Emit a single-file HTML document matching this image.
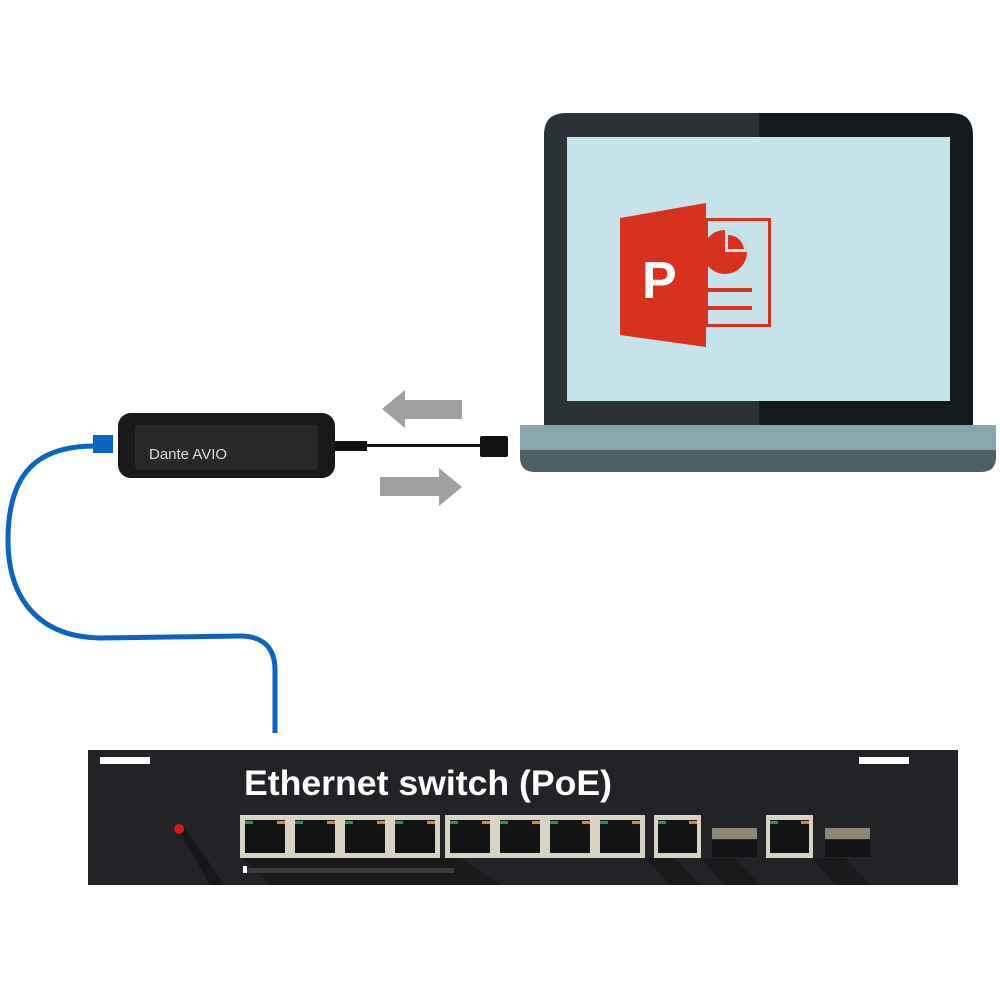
<!DOCTYPE html>
<html><head><meta charset="utf-8"><style>body{margin:0;background:#fff}svg{display:block}</style></head>
<body>
<svg width="1000" height="1000" viewBox="0 0 1000 1000" xmlns="http://www.w3.org/2000/svg">
<!-- laptop -->
<path d="M544,440 V135 Q544,113 566,113 H759 V440 Z" fill="#2b3336"/>
<path d="M759,113 H951 Q973,113 973,135 V440 H759 Z" fill="#131b1e"/>
<rect x="567" y="137" width="383" height="264" fill="#c5e3ea"/>
<path d="M520,425 H996 V457 Q996,472 981,472 H535 Q520,472 520,457 Z" fill="#4e5f66"/>
<rect x="520" y="425" width="476" height="25" fill="#86a5ad"/>
<!-- ppt icon -->
<rect x="706.5" y="219.5" width="63" height="106" fill="none" stroke="#d8311f" stroke-width="3"/>
<circle cx="725" cy="252" r="22" fill="#d8311f"/>
<path d="M725,252 V230 A22,22 0 0 1 747,252 Z" fill="#c5e3ea"/>
<path d="M728,249 V235 A16,16 0 0 1 744,249 Z" fill="#d8311f"/>
<rect x="706" y="288" width="46" height="4" fill="#d8311f"/>
<rect x="706" y="306" width="46" height="4" fill="#d8311f"/>
<path d="M620,218 L706,203 V347 L620,335 Z" fill="#d8311f"/>
<text x="642" y="298" font-family="Liberation Sans, sans-serif" font-weight="bold" font-size="52" fill="#fff">P</text>
<!-- arrows -->
<path d="M382,409 L405,390 V400 H462 V419 H405 V428 Z" fill="#a0a0a0"/>
<path d="M462,487 L439,468 V477 H380 V496 H439 V506 Z" fill="#a0a0a0"/>
<!-- avio -->
<rect x="335" y="441" width="32" height="10" fill="#111"/>
<rect x="365" y="444" width="118" height="3" fill="#111"/>
<rect x="480" y="436" width="28" height="21" rx="2" fill="#111"/>
<rect x="118" y="413" width="217" height="65" rx="13" fill="#18191a"/>
<rect x="135" y="425" width="183" height="45" rx="3" fill="#26282a"/>
<text x="149" y="459" font-family="Liberation Sans, sans-serif" font-size="15" fill="#dcdcdc">Dante AVIO</text>
<!-- blue cable -->
<path d="M95,446 C40,446 8,470 8,540 C8,600 40,637 100,638 L240,636 C265,636 275,650 275,670 L275,733" fill="none" stroke="#0b63c4" stroke-width="5"/>
<rect x="93" y="435" width="20" height="18" fill="#0b63c4"/>
<!-- switch -->
<rect x="88" y="750" width="870" height="135" fill="#222326"/>
<rect x="100" y="757" width="50" height="7" fill="#fff"/>
<rect x="859" y="757" width="50" height="7" fill="#fff"/>
<text x="244" y="795" font-family="Liberation Sans, sans-serif" font-weight="bold" font-size="35" textLength="368" lengthAdjust="spacingAndGlyphs" fill="#fff">Ethernet switch (PoE)</text>
<path d="M178,829 L210,885 H225 L185,829 Z" fill="#151618"/>
<circle cx="179" cy="829" r="5" fill="#d31a1a"/>
<path d="M242,858 L270,885 H500 L460,858 Z" fill="#18191b"/>
<path d="M645,858 L670,885 H700 L675,858 Z" fill="#18191b"/>
<path d="M700,858 L725,885 H760 L735,858 Z" fill="#18191b"/>
<path d="M812,858 L835,885 H870 L845,858 Z" fill="#18191b"/>
<rect x="244" y="868" width="210" height="5" fill="#3a3b3d"/>
<rect x="243" y="866" width="4" height="7" fill="#fff"/>
<rect x="240" y="815" width="200" height="43" fill="#d9d3c4"/>
<rect x="445" y="815" width="200" height="43" fill="#d9d3c4"/>
<rect x="654" y="815" width="47" height="43" fill="#d9d3c4"/>
<rect x="766" y="815" width="47" height="43" fill="#d9d3c4"/>
<g fill="#121314">
<rect x="245" y="820" width="40" height="33"/><rect x="295" y="820" width="40" height="33"/><rect x="345" y="820" width="40" height="33"/><rect x="395" y="820" width="40" height="33"/>
<rect x="450" y="820" width="40" height="33"/><rect x="500" y="820" width="40" height="33"/><rect x="550" y="820" width="40" height="33"/><rect x="600" y="820" width="40" height="33"/>
<rect x="658" y="820" width="39" height="33"/><rect x="770" y="820" width="39" height="33"/>
<rect x="712" y="840" width="45" height="17"/><rect x="825" y="840" width="45" height="17"/>
</g>
<rect x="712" y="828" width="45" height="11" fill="#8e8677"/>
<rect x="825" y="828" width="45" height="11" fill="#8e8677"/>
<g fill="#1f9a4a">
<rect x="245" y="821" width="8" height="3"/><rect x="295" y="821" width="8" height="3"/><rect x="345" y="821" width="8" height="3"/><rect x="395" y="821" width="8" height="3"/>
<rect x="450" y="821" width="8" height="3"/><rect x="500" y="821" width="8" height="3"/><rect x="550" y="821" width="8" height="3"/><rect x="600" y="821" width="8" height="3"/>
<rect x="658" y="821" width="8" height="3"/><rect x="770" y="821" width="8" height="3"/>
</g>
<g fill="#e08a1e">
<rect x="277" y="821" width="8" height="3"/><rect x="327" y="821" width="8" height="3"/><rect x="377" y="821" width="8" height="3"/><rect x="427" y="821" width="8" height="3"/>
<rect x="482" y="821" width="8" height="3"/><rect x="532" y="821" width="8" height="3"/><rect x="582" y="821" width="8" height="3"/><rect x="632" y="821" width="8" height="3"/>
<rect x="689" y="821" width="8" height="3"/><rect x="801" y="821" width="8" height="3"/>
</g>
</svg>
</body></html>
